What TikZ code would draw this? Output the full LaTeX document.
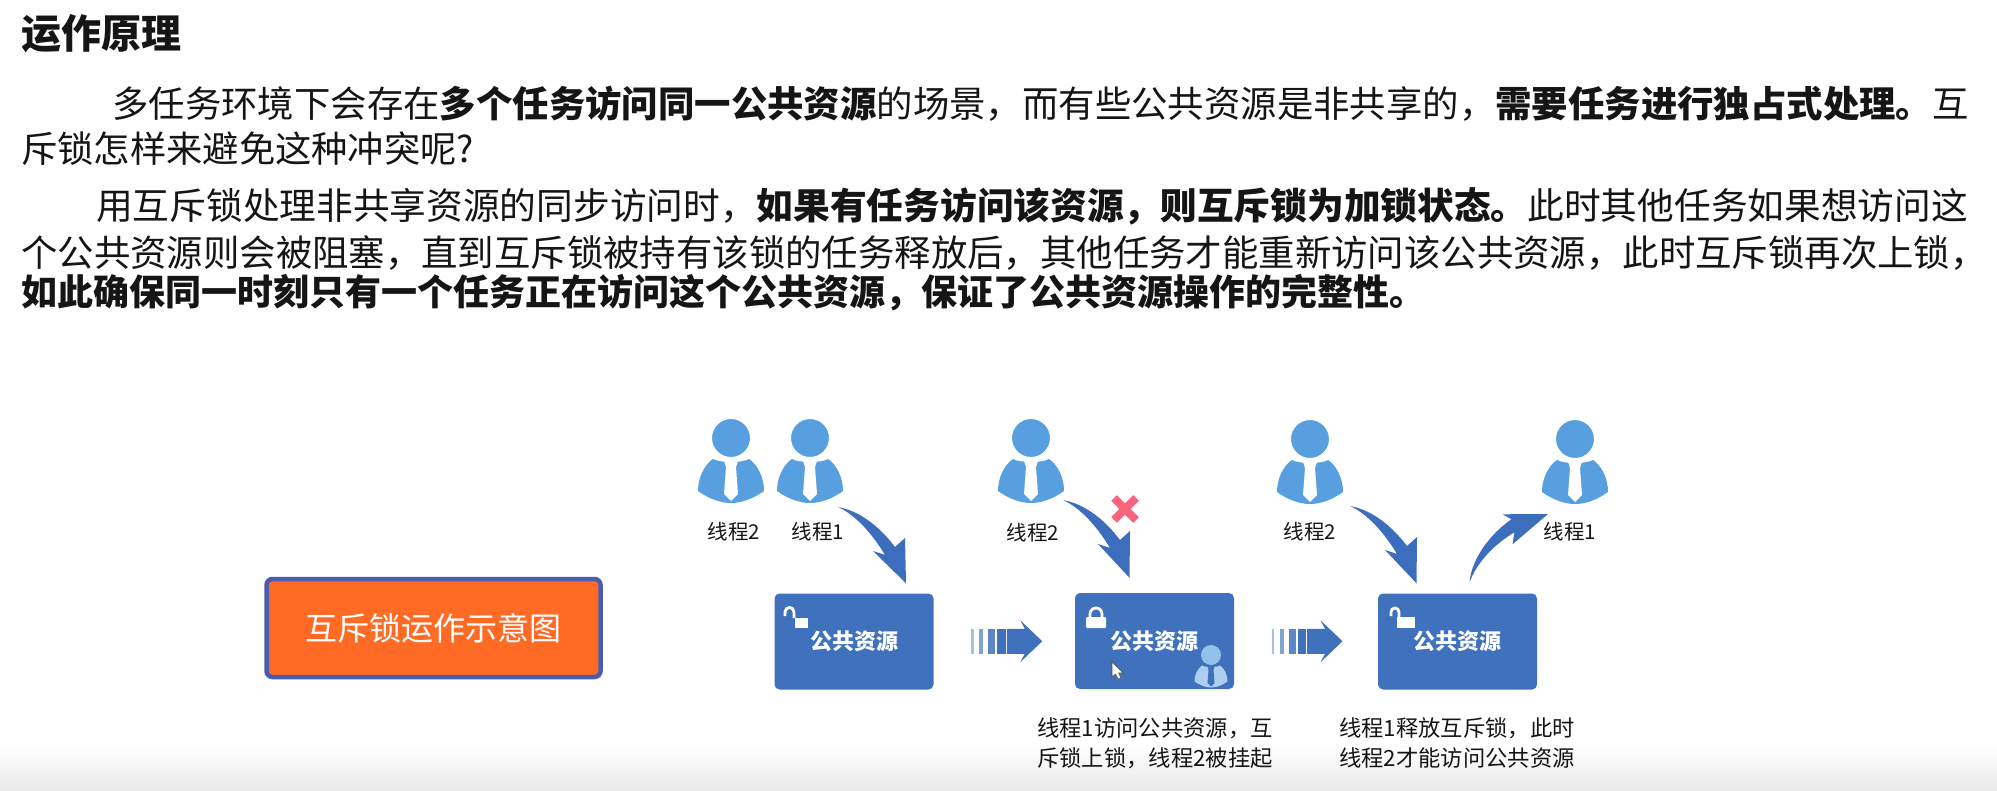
\documentclass[tikz,border=0pt]{standalone}
\usepackage{fontspec}
\setmainfont{Noto Sans CJK SC}
\usetikzlibrary{calc}
\definecolor{resblue}{HTML}{3F71BD}
\definecolor{arrowblue}{HTML}{3D6EBE}
\definecolor{personblue}{HTML}{589FDF}
\definecolor{lockorange}{HTML}{FF6A24}
\definecolor{lockborder}{HTML}{4A5CB0}
\definecolor{crossred}{HTML}{F9637B}
\definecolor{inkblack}{HTML}{151515}
\newcommand\person[2]{
  \pic at (#2) {personbody={personblue}{white}};
  \node[head] (#1) at (#2) {};
}
\newcommand\swoosh[2]{
  \fill[arrowblue] (#1) .. controls ([shift={(22,4)}]#1) and ([shift={(42,20)}]#1) .. ([shift={(57,40)}]#1)
    -- ([shift={(67,31)}]#1) -- (#2) -- ([shift={(35,44)}]#1) -- ([shift={(47,48)}]#1)
    .. controls ([shift={(35,28)}]#1) and ([shift={(18,8)}]#1) .. (#1) -- cycle;
}
\tikzset{
  pics/personbody/.style 2 args={code={
    \fill[#1] (-18,21) .. controls (-27,27) and (-33,40) .. (-33,53)
      .. controls (-22,61) and (-10,65) .. (0,65)
      .. controls (10,65) and (22,61) .. (33,53)
      .. controls (33,40) and (27,27) .. (18,21)
      .. controls (12,25) and (-12,25) .. cycle;
    \fill[#2] (-8,20) -- (8,20) -- (5,29) -- (7,56) -- (0,63) -- (-7,56) -- (-5,29) -- cycle;
  }},
  pics/stripearrow/.style={code={
    \foreach \xa/\xb/\tint in {-35.5/-33/45,-27.5/-23.5/65,-18.5/-11.5/85,-9.5/-1/100}
      {\fill[resblue!\tint!white] (\xa,-12.5) rectangle (\xb,12.5);}
    \fill[resblue] (0,-12.5) -- (18,-12.5) -- (13.5,-21) -- (35.5,0) -- (13.5,21)
      -- (18,12.5) -- (0,12.5) -- cycle;
  }}
}
\begin{document}
\begin{tikzpicture}
      [x=1pt, y=-1pt, text=inkblack,
      textline/.style={anchor=west, inner sep=0pt, font=\fontsize{#1}{44}\selectfont},
      head/.style={circle, fill=personblue, draw=white, line width=1pt, inner sep=0pt, minimum size=39pt},
      resbox/.style={rectangle, rounded corners=5pt, fill=resblue, text=white, inner sep=0pt,
        minimum width=159pt, minimum height=96pt, font=\fontsize{22}{26}\selectfont\bfseries},
      threadlabel/.style={inner sep=0pt, font=\fontsize{20.5}{24}\selectfont},
      caption/.style={inner sep=0pt, align=center, font=\fontsize{22.3}{30}\selectfont},
      lockshape/.style={white, line width=2.8pt}]

      \useasboundingbox (0,0) rectangle (1997,791);
      \shade[top color=white, bottom color=black!9, draw=none] (0,745) rectangle (1997,791);

      % text at the top
      \node[textline=40] (title) at (21,34) {\textbf{运作原理}};
      \node[textline=36.4] (parA1) at (112,104) {多任务环境下会存在\textbf{多个任务访问同一公共资源}的场景，而有些公共资源是非共享的，\textbf{需要任务进行独占式处理。}互};
      \node[textline=36.3] (parA2) at (21,149) {斥锁怎样来避免这种冲突呢?};
      \node[textline=36.7] (parB1) at (96,206) {用互斥锁处理非共享资源的同步访问时，\textbf{如果有任务访问该资源，则互斥锁为加锁状态。}此时其他任务如果想访问这};
      \node[textline=36.4] (parB2) at (21,253) {个公共资源则会被阻塞，直到互斥锁被持有该锁的任务释放后，其他任务才能重新访问该公共资源，此时互斥锁再次上锁，};
      \node[textline=36] (parB3) at (21,293) {\textbf{如此确保同一时刻只有一个任务正在访问这个公共资源，保证了公共资源操作的完整性。}};

      \node[rectangle, rounded corners=6pt, draw=lockborder, line width=4.5pt, fill=lockorange,
        text=white, minimum width=334pt, minimum height=98pt, inner sep=0pt,
        font=\fontsize{32}{36}\selectfont] (legend) at (433.5,628) {互斥锁运作示意图};

      % the three resource boxes
      \node[resbox] (resA) at (854,641.5) {公共资源};
      \node[resbox] (resB) at (1154.5,641) {公共资源};
      \node[resbox] (resC) at (1457.5,641.5) {公共资源};

      % open lock, closed lock, open lock
      \fill[white] (795,618) rectangle (808,628);
      \draw[lockshape] (785,616) -- (785,612) arc[start angle=180, end angle=360, radius=4.5] -- (794,618);
      \fill[white, rounded corners=1pt] (1086,617) rectangle (1106,628);
      \draw[lockshape] (1090,617) -- (1090,614) arc[start angle=180, end angle=360, radius=6] -- (1102,617);
      \fill[white] (1397,617) rectangle (1415,628);
      \draw[lockshape] (1391,616) -- (1391,612) arc[start angle=180, end angle=360, radius=4] -- (1399,618);

      % the thread that holds the lock
      \pic[scale=.5] at (1211,655) {personbody={personblue!50!white}{resblue}};
      \node[head, minimum size=20pt, fill=personblue!65!white, draw=none] (holder) at (1211,655) {};
      \fill[white, draw=black!70, line width=.6pt] (1112,662) -- (1123,673) -- (1118.5,673)
        -- (1121,678) -- (1118,679) -- (1115.5,674) -- (1112,677) -- cycle;

      \person{threadA}{731,438}
      \person{threadB}{810,438}
      \person{threadC}{1031,438}
      \person{threadD}{1310,439}
      \person{threadE}{1575,439}

      \node[threadlabel] (labelA) at (734,532) {线程2};
      \node[threadlabel] (labelB) at (818,532) {线程1};
      \node[threadlabel] (labelC) at (1033,533) {线程2};
      \node[threadlabel] (labelD) at (1310,532) {线程2};
      \node[threadlabel] (labelE) at (1570,532) {线程1};

      % arrows between threads and boxes
      \coordinate (tailA) at ([shift={(28,69)}]threadB.center);
      \coordinate (tipA) at ([shift={(52,-10)}]resA.north);
      \coordinate (tailB) at ([shift={(32,62)}]threadC.center);
      \coordinate (tipB) at ([shift={(-25,-15)}]resB.north);
      \coordinate (tailC) at ([shift={(40,67)}]threadD.center);
      \coordinate (tipC) at ([shift={(-41,-10)}]resC.north);
      \coordinate (tailD) at ([shift={(12,-11)}]resC.north);
      \coordinate (tipD) at ([shift={(-27,75)}]threadE.center);
      \swoosh{tailA}{tipA}
      \swoosh{tailB}{tipB}
      \swoosh{tailC}{tipC}
      \fill[arrowblue] (tailD) .. controls ([shift={(2,-23)}]tailD) and ([shift={(20,-48)}]tailD) .. ([shift={(42,-63)}]tailD)
        -- ([shift={(33,-68)}]tailD) -- (tipD) -- ([shift={(43,-38)}]tailD) -- ([shift={(45,-50)}]tailD)
        .. controls ([shift={(25,-38)}]tailD) and ([shift={(8,-21)}]tailD) .. (tailD) -- cycle;

      \draw[crossred, line width=8pt] (1114,498) -- (1136,520);
      \draw[crossred, line width=8pt] (1136,498) -- (1114,520);

      \pic at ([xshift=2.5pt]$(resA.east)!.5!(resB.west)$) {stripearrow};
      \pic at ([xshift=1pt]$(resB.east)!.5!(resC.west)$) {stripearrow};

      \node[caption] (noteB) at (1155,743) {线程1访问公共资源，互\\斥锁上锁，线程2被挂起};
      \node[caption] (noteC) at (1457,743) {线程1释放互斥锁，此时\\线程2才能访问公共资源};
    \end{tikzpicture}
\end{document}
